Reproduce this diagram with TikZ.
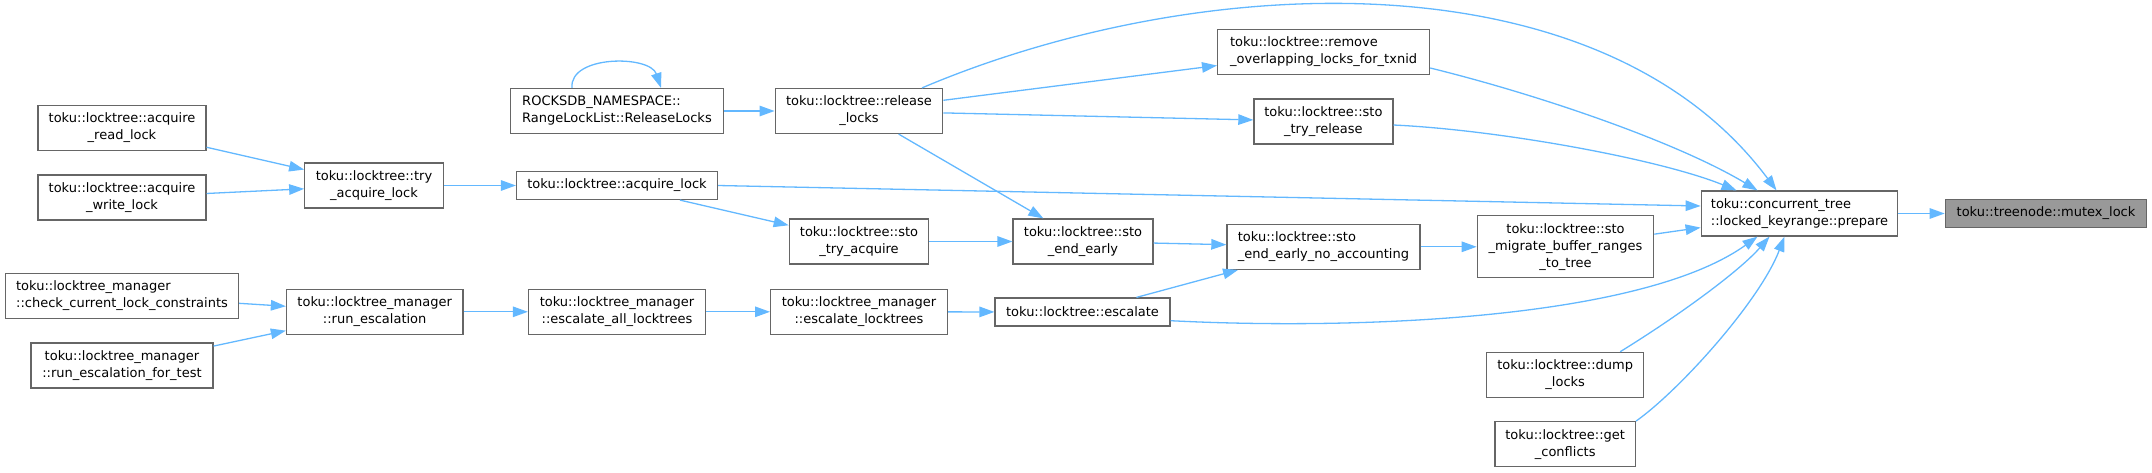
\documentclass[tikz,border=0pt]{standalone}
\usepackage{fontspec}
\setmainfont{DejaVu Sans}
\usetikzlibrary{arrows.meta}
\definecolor{edgeblue}{HTML}{63B8FF}
\definecolor{boxgray}{HTML}{666666}
\definecolor{hlgray}{HTML}{999999}
\begin{document}
\begin{tikzpicture}[x=1pt,y=-1pt,
    fn/.style={draw=boxgray,fill=white,line width=1.2pt,inner sep=2pt,minimum height=28pt,align=center,font=\fontsize{13}{17}\selectfont},
    two/.style={minimum height=45pt},
    three/.style={minimum height=62pt},
    edge/.style={draw=edgeblue,line width=1.3pt,-{Triangle[length=15pt,width=10.5pt]}}]
        \useasboundingbox (0,0) rectangle (2152,472);
        % boxes
        \node[fn,two,minimum width=168pt] (readlock) at (122,128) {toku::locktree::acquire\\\_read\_lock};
        \node[fn,two,minimum width=168pt] (writelock) at (122,197.5) {toku::locktree::acquire\\\_write\_lock};
        \node[fn,two,minimum width=233pt,align=left] (checkcur) at (122,296) {toku::locktree\_manager\\::check\_current\_lock\_constraints};
        \node[fn,two,minimum width=182pt] (runesctest) at (122,365.5) {toku::locktree\_manager\\::run\_escalation\_for\_test};
        \node[fn,two,minimum width=138.5pt] (tryacq) at (374,185.5) {toku::locktree::try\\\_acquire\_lock};
        \node[fn,two,minimum width=176.5pt] (runesc) at (374.7,311.8) {toku::locktree\_manager\\::run\_escalation};
        \node[fn,two,minimum width=212.5pt,align=left] (relrdb) at (617,111) {ROCKSDB\_NAMESPACE::\\RangeLockList::ReleaseLocks};
        \node[fn,minimum width=201pt] (acqlock) at (617,185.5) {toku::locktree::acquire\_lock};
        \node[fn,two,minimum width=177pt] (escall) at (617,311.8) {toku::locktree\_manager\\::escalate\_all\_locktrees};
        \node[fn,two,minimum width=167.7pt] (rellocks) at (859,111) {toku::locktree::release\\\_locks};
        \node[fn,two,minimum width=139.5pt] (stotryacq) at (859,241.5) {toku::locktree::sto\\\_try\_acquire};
        \node[fn,two,minimum width=176.8pt] (esclocktrees) at (859,311.8) {toku::locktree\_manager\\::escalate\_locktrees};
        \node[fn,two,minimum width=140pt] (stoendearly) at (1083,241.5) {toku::locktree::sto\\\_end\_early};
        \node[fn,minimum width=175pt] (escalate) at (1082.5,312) {toku::locktree::escalate};
        \node[fn,two,minimum width=212pt,align=left] (removeov) at (1323.6,52) {toku::locktree::remove\\\_overlapping\_locks\_for\_txnid};
        \node[fn,two,minimum width=139pt] (stotryrel) at (1323.4,121.5) {toku::locktree::sto\\\_try\_release};
        \node[fn,two,minimum width=193pt,align=left] (noacct) at (1323.4,246.8) {toku::locktree::sto\\\_end\_early\_no\_accounting};
        \node[fn,three,minimum width=176.5pt] (migrate) at (1565.5,246.8) {toku::locktree::sto\\\_migrate\_buffer\_ranges\\\_to\_tree};
        \node[fn,two,minimum width=157pt] (dumplocks) at (1565.2,374.8) {toku::locktree::dump\\\_locks};
        \node[fn,two,minimum width=140.5pt] (getconf) at (1565.2,444.2) {toku::locktree::get\\\_conflicts};
        \node[fn,two,minimum width=196.6pt,align=left] (prepare) at (1799.5,213.5) {toku::concurrent\_tree\\::locked\_keyrange::prepare};
        \node[fn,fill=hlgray,minimum width=201.4pt] (mutex) at (2046,213.5) {toku::treenode::mutex\_lock};
        % calls
        \draw[edge] (readlock) -- (tryacq);
        \draw[edge] (writelock) -- (tryacq);
        \draw[edge] (tryacq) -- (acqlock);
        \draw[edge] (acqlock) -- (stotryacq);
        \draw[edge] (acqlock.east) -- ([yshift=7.5pt]prepare.west);
        \draw[edge] ([xshift=-45pt]relrdb.north) .. controls +(-3,-33) and +(-11,-33) .. ([xshift=44pt]relrdb.north);
        \draw[edge] (relrdb) -- (rellocks);
        \draw[edge] ([xshift=63pt]rellocks.north) .. controls +(278,-118) and +(-176,-236) .. ([xshift=-23pt]prepare.north);
        \draw[edge] (rellocks) -- (removeov);
        \draw[edge] (rellocks) -- (stotryrel);
        \draw[edge] (rellocks) -- (stoendearly);
        \draw[edge] ([yshift=-16pt]removeov.east) .. controls +(110,27) and +(-80,-48) .. ([xshift=-42pt]prepare.north);
        \draw[edge] ([yshift=-3.5pt]stotryrel.east) .. controls +(107,5) and +(-76,-31) .. ([xshift=-63pt]prepare.north);
        \draw[edge] (stotryacq) -- (stoendearly);
        \draw[edge] (stoendearly) -- (noacct);
        \draw[edge] (noacct) -- (migrate);
        \draw[edge] (migrate) -- (prepare);
        \draw[edge] (checkcur) -- (runesc);
        \draw[edge] (runesctest) -- (runesc);
        \draw[edge] (runesc) -- (escall);
        \draw[edge] (escall) -- (esclocktrees);
        \draw[edge] (esclocktrees) -- (escalate);
        \draw[edge] (escalate) -- (noacct);
        \draw[edge] ([yshift=-8.7pt]escalate.east) .. controls +(180,9.3) and +(-117.5,84) .. ([xshift=-42pt]prepare.south);
        \draw[edge] ([xshift=55pt]dumplocks.north) .. controls +(60,-37) and +(-29.5,34) .. ([xshift=-30pt]prepare.south);
        \draw[edge] (getconf.north east) .. controls +(44.5,-31.7) and +(-24.5,64) .. ([xshift=-15pt]prepare.south);
        \draw[edge] (prepare) -- (mutex);
\end{tikzpicture}
\end{document}
